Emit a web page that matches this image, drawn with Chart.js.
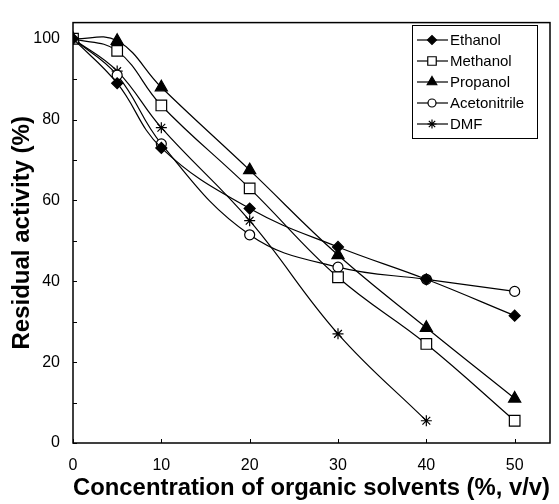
<!DOCTYPE html>
<html>
<head>
<meta charset="utf-8">
<script src="https://cdn.jsdelivr.net/npm/chart.js@4/dist/chart.umd.min.js"></script>
<style>
  body { margin: 0; background: #fff; }
  #wrap { width: 559px; height: 504px; }
</style>
</head>
<body>
<div id="wrap"><canvas id="solventChart" width="559" height="504"></canvas></div>
<script>
// concentrations of solvent (%, v/v)
var conc = [0, 5, 10, 20, 30, 40, 50];
var concDMF = [0, 5, 10, 20, 30, 40];

// residual activity (%)
var ethanol = [100, 89, 73, 58, 48.5, 40.5, 31.5];
var methanol = [100, 97, 83.5, 63, 41, 24.5, 5.5];
var propanol = [100, 99.5, 88, 67.5, 46.5, 28.5, 11];
var acetonitrile = [100, 91, 74, 51.5, 43.5, 40.5, 37.5];
var dmf = [100, 92, 78, 55, 27, 5.5];

var xTicks = [0, 10, 20, 30, 40, 50];
var yTicks = [0, 20, 40, 60, 80, 100];
var yMinor = [0, 10, 20, 30, 40, 50, 60, 70, 80, 90, 100];

function pts(xs, ys) {
    return xs.map(function (x, i) { return {x: x, y: ys[i]}; });
}

var series = [
    {label: 'Ethanol', xs: conc, ys: ethanol, style: 'rectRot', r: 5.5, fill: '#000', lr: 4.5},
    {label: 'Methanol', xs: conc, ys: methanol, style: 'rect', r: 7.5, fill: '#fff', lr: 6},
    {label: 'Propanol', xs: conc, ys: propanol, style: 'triangle', r: 7, fill: '#000', lr: 5.5},
    {label: 'Acetonitrile', xs: conc, ys: acetonitrile, style: 'circle', r: 5, fill: '#fff', lr: 4},
    {label: 'DMF', xs: concDMF, ys: dmf, style: 'star', r: 5.5, fill: '#000', lr: 4.5}
];

var datasets = series.map(function (s) {
    return {
        label: s.label,
        data: pts(s.xs, s.ys),
        borderColor: '#000',
        borderWidth: 1.2,
        tension: 0.4,
        pointStyle: s.style,
        pointRadius: s.r,
        pointBackgroundColor: s.fill,
        pointBorderColor: '#000',
        pointBorderWidth: 1.2,
        fill: false
    };
});

// frame, inward ticks and the boxed legend
var decor = {
    id: 'decor',
    afterDraw: function (chart) {
        var ctx = chart.ctx, a = chart.chartArea;
        var xs = chart.scales.x, ys = chart.scales.y;
        ctx.save();
        ctx.strokeStyle = '#000';
        ctx.lineWidth = 1.5;
        ctx.strokeRect(a.left, a.top, a.right - a.left, a.bottom - a.top);
        ctx.lineWidth = 1;
        ctx.beginPath();
        xTicks.forEach(function (v) {
            var px = Math.round(xs.getPixelForValue(v)) + 0.5;
            ctx.moveTo(px, a.bottom);
            ctx.lineTo(px, a.bottom - 4);
        });
        yMinor.forEach(function (v) {
            var py = Math.round(ys.getPixelForValue(v)) + 0.5;
            ctx.moveTo(a.left, py);
            ctx.lineTo(a.left + 4, py);
        });
        ctx.stroke();

        // legend box
        var bx = 412, by = 25, bw = 125, bh = 113, row = 21;
        ctx.lineWidth = 1;
        ctx.strokeRect(bx + 0.5, by + 0.5, bw, bh);
        ctx.font = '15px "Liberation Sans", Arial, sans-serif';
        ctx.textBaseline = 'middle';
        ctx.fillStyle = '#000';
        series.forEach(function (s, i) {
            var y = by + 15 + i * row;
            ctx.lineWidth = 1.2;
            ctx.beginPath();
            ctx.moveTo(bx + 5, y);
            ctx.lineTo(bx + 36, y);
            ctx.stroke();
            ctx.fillStyle = s.fill;
            Chart.helpers.drawPoint(ctx, {pointStyle: s.style, radius: s.lr, rotation: 0, borderWidth: 1.2}, bx + 20, y);
            ctx.fillStyle = '#000';
            ctx.fillText(s.label, bx + 38, y + 1);
        });
        ctx.restore();
    }
};

var ctx = document.getElementById('solventChart').getContext('2d');
var solventChart = new Chart(ctx, {
    type: 'line',
    data: {datasets: datasets},
    options: {
        responsive: false,
        animation: false,
        layout: {padding: {left: 0, right: 9, top: 8, bottom: 0}},
        plugins: {legend: {display: false}, tooltip: {enabled: false}},
        scales: {
            x: {
                type: 'linear',
                min: 0,
                max: 54,
                afterBuildTicks: function (scale) {
                    scale.ticks = xTicks.map(function (v) { return {value: v}; });
                },
                afterFit: function (scale) { scale.height = 61; },
                grid: {display: false, drawTicks: false},
                border: {display: false},
                ticks: {
                    color: '#000',
                    padding: 13,
                    maxRotation: 0,
                    font: {family: '"Liberation Sans", Arial, sans-serif', size: 16}
                },
                title: {
                    display: true,
                    text: 'Concentration of organic solvents (%, v/v)',
                    color: '#000',
                    padding: {top: 0, bottom: 1},
                    font: {family: '"Liberation Sans", Arial, sans-serif', size: 24, weight: 'bold'}
                }
            },
            y: {
                min: 0,
                max: 104,
                afterBuildTicks: function (scale) {
                    scale.ticks = yTicks.map(function (v) { return {value: v}; });
                },
                afterFit: function (scale) { scale.width = 73; },
                grid: {display: false, drawTicks: false},
                border: {display: false},
                ticks: {
                    color: '#000',
                    padding: 13,
                    font: {family: '"Liberation Sans", Arial, sans-serif', size: 16}
                },
                title: {
                    display: true,
                    text: 'Residual activity (%)',
                    color: '#000',
                    padding: {top: 8, bottom: 0},
                    font: {family: '"Liberation Sans", Arial, sans-serif', size: 24, weight: 'bold'}
                }
            }
        }
    },
    plugins: [decor]
});
</script>
</body>
</html>
